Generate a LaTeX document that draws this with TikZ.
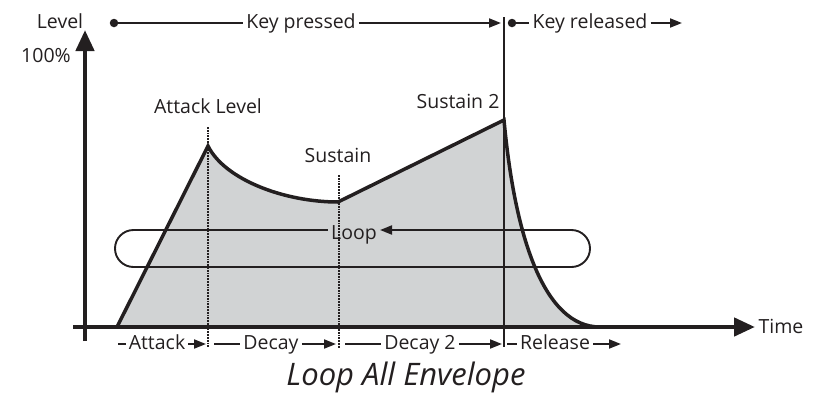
\documentclass[tikz,border=0pt]{standalone}
\usepackage{fontspec}
\setmainfont{Open Sans}
\usepackage{tikz}
\usetikzlibrary{arrows.meta}
\definecolor{ink}{HTML}{231F20}
\definecolor{envgray}{HTML}{D1D3D4}

\begin{document}
\begin{tikzpicture}[x=1pt,y=-1pt,>={Triangle[length=12pt,width=9pt]},
  every node/.style={font=\fontsize{19.5}{22}\selectfont,text=ink,inner sep=3pt},
  lbl/.style={text height=14pt,text depth=4pt},
  dotmark/.style={circle,fill=ink,inner sep=0pt,minimum size=8.5pt},
  thinline/.style={draw=ink,line width=1.9pt},
  guide/.style={draw=ink,line width=1.8pt,densely dotted},
  axis/.style={draw=ink,line width=4.5pt,-{Triangle[length=21pt,width=18pt]}},
  envline/.style={draw=ink,line width=3.5pt,line join=miter}]
\useasboundingbox (0,0) rectangle (822,397);
% envelope corners
\coordinate (E0) at (117,327);
\coordinate (E1) at (208,146);
\coordinate (E2) at (338,202);
\coordinate (E3) at (504,120);
\coordinate (E4) at (600,327);
\fill[envgray] (E0) -- (E1) .. controls (225,180) and (285,202) .. (E2) -- (E3)
  .. controls (515,240) and (545,327) .. (E4) -- cycle;
% level labels
\node[lbl] (AL) at (208,108) {Attack Level};
\node[lbl] (SU) at (338,157) {Sustain};
\node[lbl] (S2) at (458,103) {Sustain 2};
% dotted guides
\coordinate (G1) at (208,127);
\coordinate (G1b) at (208,348);
\coordinate (G2) at (339,175);
\coordinate (G2b) at (339,348);
\draw[guide] (G1) -- (G1b);
\draw[guide] (G2) -- (G2b);
% loop
\node[lbl] (LP) at (354,234) {Loop};
\coordinate (L1) at (115,230);
\coordinate (L2) at (115,267);
\coordinate (L3) at (590,267);
\coordinate (L4) at (590,230);
\draw[thinline,rounded corners=18.5pt,->] (LP.west |- L1) -- (L1) -- (L2) -- (L3) -- (L4) -- (LP.east |- L1);
% envelope
\draw[envline] (E0) -- (E1) .. controls (225,180) and (285,202) .. (E2) -- (E3)
  .. controls (515,240) and (545,327) .. (E4);
% axes
\coordinate (Y0) at (85,341);
\coordinate (Y1) at (85,30);
\coordinate (X0) at (73,327);
\coordinate (X1) at (755,327);
\draw[axis] (Y0) -- (Y1);
\draw[axis] (X0) -- (X1);
\node (LV) at (60,21) {Level};
\node (PC) at (46,56) {100\%};
\node (TM) at (781,326) {Time};
% key on / key off
\coordinate (K0) at (504,17);
\coordinate (K1) at (504,347);
\draw[draw=ink,line width=2.2pt] (K0) -- (K1);
\node[dotmark] (D1) at (114,23) {};
\node[dotmark] (D2) at (512,23) {};
\node[lbl] (KP) at (301,23) {Key pressed};
\node[lbl] (KR) at (590,23) {Key released};
\coordinate (KPe) at (501,23);
\coordinate (KRe) at (682,23);
\draw[thinline] (D1) -- (KP);
\draw[thinline,->] (KP) -- (KPe);
\draw[thinline] (D2) -- (KR);
\draw[thinline,->] (KR) -- (KRe);
% phases
\node[lbl] (AT) at (157,344) {Attack};
\node[lbl] (DC) at (271,344) {Decay};
\node[lbl] (D2L) at (420,344) {Decay 2};
\node[lbl] (RL) at (555,344) {Release};
\coordinate (P0) at (118,344);
\coordinate (P1) at (206,344);
\coordinate (P2) at (214,344);
\coordinate (P3) at (336,344);
\coordinate (P4) at (345,344);
\coordinate (P5) at (502,344);
\coordinate (P6) at (507,344);
\coordinate (P7) at (621,344);
\draw[thinline] (P0) -- (AT);
\draw[thinline,->] (AT) -- (P1);
\draw[thinline] (P2) -- (DC);
\draw[thinline,->] (DC) -- (P3);
\draw[thinline] (P4) -- (D2L);
\draw[thinline,->] (D2L) -- (P5);
\draw[thinline] (P6) -- (RL);
\draw[thinline,->] (RL) -- (P7);
% caption
\node[font=\fontsize{31}{34}\selectfont\itshape] (CAP) at (406,377) {Loop All Envelope};
\end{tikzpicture}
\end{document}
